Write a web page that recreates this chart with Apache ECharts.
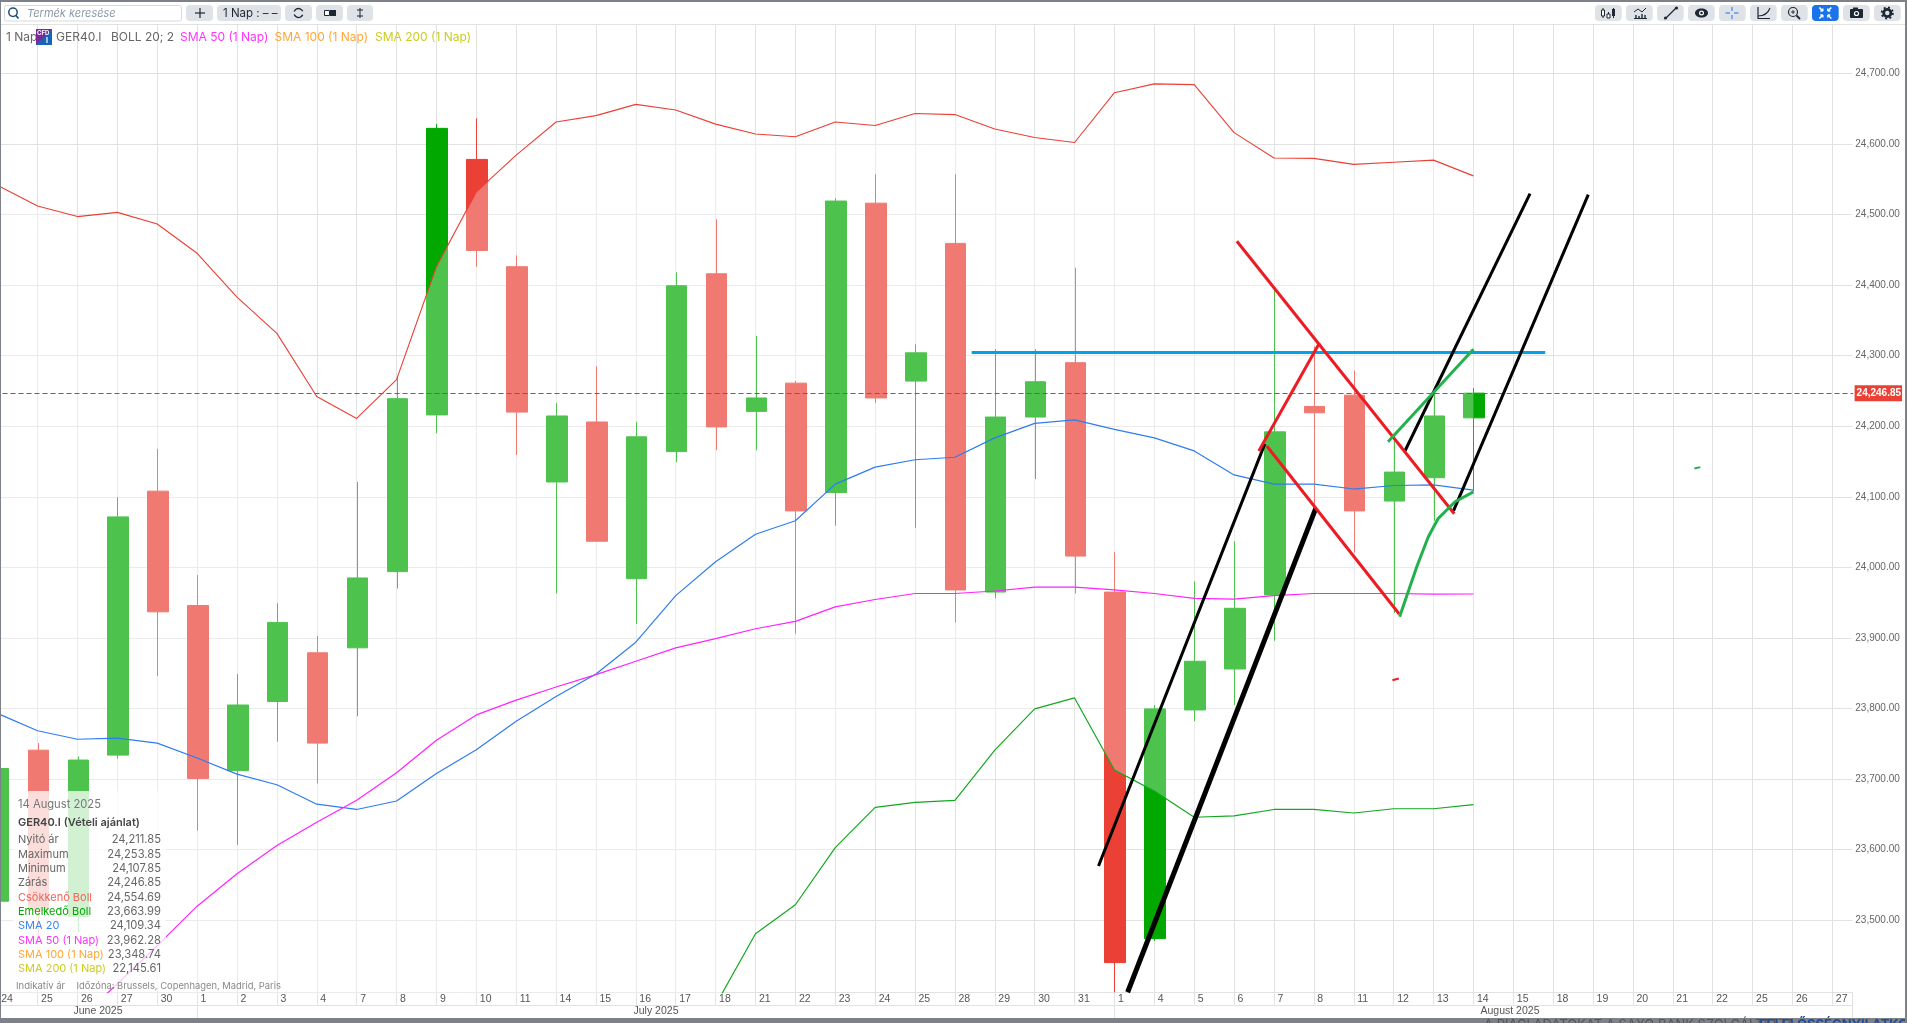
<!DOCTYPE html>
<html><head><meta charset="utf-8"><title>GER40.I</title>
<style>html,body{margin:0;padding:0;background:#fff;overflow:hidden}#c{width:1907px;height:1023px}</style>
<script src="https://cdn.jsdelivr.net/npm/echarts@6/dist/echarts.min.js"></script>
</head><body><div id="c"></div>
<script>
const categories=['24','25','26','27','30','1','2','3','4','7','8','9','10','11','14','15','16','17','18','21','22','23','24','25','28','29','30','31','1','4','5','6','7','8','11','12','13','14','15','18','19','20','21','22','25','26','27'];
const priceTicks=[23500,23600,23700,23800,23900,24000,24100,24200,24300,24400,24500,24600,24700];
// open, close, low, high
const ohlc=[
[23527,23715,23520,23720],[23741,23514,23472,23751],[23505,23727,23483,23732],[23734,24071.5,23729,24099],
[24108,23937,23846,24168],[23946,23701,23627,23989],[23712,23805,23607,23849],[23810,23922,23753,23949],
[23879,23751,23694,23903],[23886,23985,23789,24121],[23994,24239,23970,24270],[24216,24622,24190,24628],
[24578,24449,24426,24636],[24426,24220,24159,24442],[24121,24214.5,23963,24233],[24206,24037,24037,24285],
[23984,24185,23920,24206],[24164,24399,24149,24418],[24416,24199,24166,24493],[24221,24240,24166,24328],
[24261,24080,23906,24264],[24106,24519,24059,24523],[24516,24240,24233,24557],[24264,24304,24056,24316],
[24459,23968,23922,24557],[23965,24213,23956,24309],[24213,24263,24125,24309],[24290,24016,23963,24424.5],
[23965,23440,23398,24022],[23474,23799.5,23471,23805],[23798,23867,23782,23980],[23856,23942,23805,24037],
[23961,24192,23896,24393.5],[24228,24219,24080,24313],[24244,24080,24021,24278.5],[24094,24135,23935.5,24180],
[24127,24214.5,24066,24251],[24211.85,24246.85,24107.85,24253.85]];
const bollUpper=[24541,24512,24497,24503,24486.5,24445,24383,24331.5,24242,24211,24266,24426,24532,24584,24631,24640,24656,24648,24628,24614,24610,24631,24626,24643,24641.5,24621,24609,24602,24672.5,24685,24684,24616,24580,24579.5,24571,24574,24577,24554.69];
const bollLower=[23045,23025,23016,23013,23015,23015,23031,23052,23087,23103,23072,22990,22951,22980,23003,23058,23132,23272,23380,23481,23522,23603,23660,23667,23670,23741,23799.5,23815,23713,23683,23646,23648,23657,23657,23652,23658,23658,23663.99];
const sma20=[23793,23768.5,23756.5,23758,23751,23730,23707,23692,23664.5,23657,23669,23708,23741.5,23782,23817,23849,23894,23960,24008,24047,24066,24118,24142,24152.5,24156,24183.5,24204,24209,24195.5,24183.5,24165,24131,24118,24118,24111,24116,24117,24109.34];
const sma50=[23249,23303,23357,23410,23464,23520,23566,23606,23639,23670,23709,23755,23791,23812,23830.5,23848,23867,23886,23899,23913,23923.5,23944,23954.5,23963,23963,23966.5,23972,23972,23968,23963,23956,23955,23960,23963,23963,23963,23962,23962.28];
const lastPrice=24246.85;
// hand-drawn annotations: [bar position, price]
const blueLevel=[[24.42,24304.5],[38.8,24304.5]];
const blackThin1=[[27.6,23577],[31.77,24175]];
const blackThin2=[[35.28,24164.5],[38.42,24529.5]];
const blackThick1=[[28.33,23398],[33.05,24084]];
const blackThick2=[[36.5,24080],[39.88,24528]];
const redA=[[31.07,24462],[36.52,24076]];
const redB=[[31.82,24172],[35.14,23934]];
const redC=[[31.62,24165],[33.14,24318]];
const greenA=[[34.86,24178],[37,24309]];
const greenB=[[35.15,23930],[35.58,24001],[35.87,24043.5],[36.12,24069.5],[36.54,24093],[37,24107]];
const redDot=[[34.97,23840],[35.13,23842.6]];
const greenDot=[[42.54,24140],[42.69,24142]];
const months=[['June 2025',98],['July 2025',656],['August 2025',1510]];
const monthDividers=[197.5,1114.5];
const legendItems=[['1 Nap',6,'#666'],['GER40.I',56,'#666'],['BOLL 20; 2',111,'#666'],['SMA 50 (1 Nap)',180,'#ff33ff'],['SMA 100 (1 Nap)',274.5,'#ffa733'],['SMA 200 (1 Nap)',375,'#cccc22']];
const panelRows=[['Nyitó ár','24,211.85','#666',840],['Maximum','24,253.85','#666',855],['Minimum','24,107.85','#666',869],['Zárás','24,246.85','#666',883],['Csökkenő Boll','24,554.69','#f2645a',898],['Emelkedő Boll','23,663.99','#00a800',912],['SMA 20','24,109.34','#3d85f0',926],['SMA 50 (1 Nap)','23,962.28','#ff33ff',941],['SMA 100 (1 Nap)','23,348.74','#ffa733',955],['SMA 200 (1 Nap)','22,145.61','#cccc22',969]];
const bandWidth=bollUpper.map((v,i)=>v-bollLower[i]);

const FONT='Inter, "Noto Sans", sans-serif', AXISFONT='"Liberation Sans", Arial, sans-serif', GRID='#e2e2e2', BTN='#dfe2e6', DARK='#1d2733', GREY='#7d8189';
const Z=50;
const txt=(t,x,y,o={})=>({type:'text',z:Z,style:Object.assign({text:t,x,y,font:(o.w||'normal')+' '+(o.s||11)+'px '+(o.f||FONT),fill:o.c||'#666',textAlign:o.a||'left',textVerticalAlign:'middle'},o.extra||{})});
const rect=(x,y,w,h,fill,r,o={})=>({type:'rect',z:o.z||Z,shape:{x,y,width:w,height:h,r:r||0},style:{fill,stroke:o.stroke,lineWidth:o.lw,opacity:o.op}});
const seg=(x1,y1,x2,y2,c,w)=>({type:'line',z:Z+1,shape:{x1,y1,x2,y2},style:{stroke:c,lineWidth:w||1}});
const circ=(cx,cy,r,fill,stroke,lw)=>({type:'circle',z:Z+1,shape:{cx,cy,r},style:{fill:fill||'none',stroke,lineWidth:lw}});
const poly=(pts,c,w)=>({type:'polyline',z:Z+1,shape:{points:pts},style:{stroke:c,lineWidth:w||1,fill:'none'}});

const g=[];
// window frame + toolbar
g.push(rect(0,0,1907,24,'#fff'));
g.push(seg(0,24.5,1905,24.5,GRID,1));
g.push(rect(0,0,1907,2,GREY,0,{z:Z+5}));
g.push(rect(0,0,1,1023,GREY,0,{z:Z+5}));
g.push(rect(1905,0,2,1023,GREY,0,{z:Z+5}));
// footer
g.push(rect(0,1018,1907,5,GREY,0,{z:Z-2}));
g.push(txt('A PIACI ADATOKAT A SAXO BANK SZOLGÁLTATTA',1484,1025,{s:13,c:'#555'}));
g.push(txt('• FELELŐSSÉGNYILATKOZAT',1750,1025,{s:13,c:'#1f4e9c',w:'bold'}));
g.push(rect(0,1005,1907,13,'#fff',0,{z:Z-1}));
g.push(seg(1,1005.5,1852.5,1005.5,GRID,1));
g.push(seg(1852.5,993,1852.5,1018,GRID,1));
monthDividers.forEach(x=>g.push(seg(x,1005,x,1018,GRID,1)));
months.forEach(m=>g.push(txt(m[0],m[1],1011.5,{s:10.5,a:'center',c:'#555',f:AXISFONT})));
// search box
g.push(rect(4.5,5.5,177,15.5,'#fff',2,{stroke:'#d6d9dd',lw:1}));
g.push(circ(13,12.2,4.2,null,'#1f4e79',1.5));
g.push(seg(16,15.5,18.5,18.5,'#1f4e79',1.7));
g.push(txt('Termék keresése',27,13.5,{s:11,c:'#8a9aa8',extra:{font:'italic 11px '+FONT}}));
[[186,27],[217,64],[285,27],[316,27],[347,26]].forEach(b=>g.push(rect(b[0],5,b[1],16,BTN,4)));
g.push(seg(195,13,205,13,DARK,1.2),seg(200,8,200,18,DARK,1.2));
g.push(txt('1 Nap : – –',223,13.5,{s:11.5,c:DARK}));
g.push({type:'arc',z:Z+1,shape:{cx:298.5,cy:13,r:4.5,startAngle:0.4,endAngle:2.8},style:{stroke:DARK,lineWidth:1.4,fill:'none'}});
g.push({type:'arc',z:Z+1,shape:{cx:298.5,cy:13,r:4.5,startAngle:3.5,endAngle:5.9},style:{stroke:DARK,lineWidth:1.4,fill:'none'}});
g.push(rect(324.5,10.5,5,5,'#fff',0,{stroke:DARK,lw:1,z:Z+1}),rect(330,10,6,6,DARK,0,{z:Z+1}));
g.push(seg(360,8,360,18,DARK,1),seg(357,10,363,10,DARK,1),seg(357,16,363,16,DARK,1));
// right-hand buttons
[1595,1626,1657,1688,1719,1750,1781,1812,1843,1874].forEach((x,i)=>g.push(rect(x,5,26.7,16,i===7?'#1a73e8':BTN,4)));
g.push(seg(1603,8,1603,18,DARK,1),rect(1601.5,10,3,6,'#fff',0,{stroke:DARK,lw:1,z:Z+2}),seg(1608.5,12,1608.5,18,DARK,1),rect(1607,14,3,4,'#fff',0,{stroke:DARK,lw:1,z:Z+2}),seg(1613.5,8,1613.5,18,DARK,1),rect(1612,9,3,7,DARK,0,{z:Z+2}));
g.push(poly([[1634,12],[1638,9],[1642,12],[1646,8]],DARK,1),seg(1634,18.5,1647,18.5,DARK,1),seg(1636,15,1636,18,DARK,1.4),seg(1639,16,1639,18,DARK,1.4),seg(1642,14,1642,18,DARK,1.4),seg(1645,15,1645,18,DARK,1.4));
g.push(seg(1666,18,1676,8,DARK,1.3),circ(1665.5,18,1.6,DARK),circ(1676.5,8,1.6,DARK));
g.push({type:'ellipse',z:Z+1,shape:{cx:1701.5,cy:13,rx:6.5,ry:4.5},style:{fill:DARK}},Object.assign(circ(1701.5,13,2.5,'#fff'),{z:Z+2}),Object.assign(circ(1701.5,13,1.3,DARK),{z:Z+3}));
g.push(seg(1725.5,13,1730,13,'#1a73e8',1),seg(1734,13,1738.5,13,'#1a73e8',1),seg(1732,7,1732,11,'#1a73e8',1),seg(1732,15,1732,19,'#1a73e8',1));
g.push(poly([[1758,7],[1758,18.5],[1770,18.5]],DARK,1.2),{type:'bezierCurve',z:Z+1,shape:{x1:1758,y1:16,x2:1770,y2:8,cpx1:1767,cpy1:16},style:{stroke:DARK,lineWidth:1.1,fill:'none'}});
g.push(circ(1793,12,4.5,null,DARK,1.2),seg(1796.5,15.5,1800,19,DARK,1.8),seg(1791,12,1795,12,DARK,.9),seg(1793,10,1793,14,DARK,.9));
[[-1,-1],[1,-1],[-1,1],[1,1]].forEach(d=>{const cx=1825.3,cy=13;g.push(seg(cx+d[0]*2.5,cy+d[1]*2,cx+d[0]*6,cy+d[1]*5.5,'#fff',1.6),seg(cx+d[0]*2.5,cy+d[1]*2,cx+d[0]*5,cy+d[1]*2,'#fff',1.4),seg(cx+d[0]*2.5,cy+d[1]*2,cx+d[0]*2.5,cy+d[1]*4.5,'#fff',1.4));});
g.push(rect(1850,9,13,9,DARK,1,{z:Z+1}),rect(1853,7.5,5,2,DARK,0,{z:Z+1}),Object.assign(circ(1856.5,13.5,2.6,'#fff'),{z:Z+2}),Object.assign(circ(1856.5,13.5,1.4,DARK),{z:Z+3}));
g.push(circ(1887.3,13,3.6,'#dfe2e6',DARK,2.8),{type:'circle',z:Z+1,shape:{cx:1887.3,cy:13,r:5.6},style:{fill:'none',stroke:DARK,lineWidth:1.8,lineDash:[2,2.4]}});
// legend row
legendItems.forEach(l=>g.push(txt(l[0],l[1],37,{s:12,c:l[2]})));
g.push(rect(36,29,16,16,'#1565b8'),{type:'polygon',z:Z+1,shape:{points:[[36,29],[52,29],[36,45]]},style:{fill:'#7b2a9a'}});
g.push(Object.assign(txt('CFD',37,33,{s:6,c:'#fff',w:'bold'}),{z:Z+2}),Object.assign(txt('I',46,41,{s:7,c:'#fff',w:'bold'}),{z:Z+2}));
// data panel
g.push(rect(13,791,153,196,'#fff',0,{op:0.75,z:Z-3}));
g.push(txt('14 August 2025',18,805,{s:11.2,c:'#777'}));
g.push(txt('GER40.I (Vételi ajánlat)',18,823,{s:11,c:'#444',w:'600'}));
panelRows.forEach(r=>{g.push(txt(r[0],18,r[3],{s:11,c:r[2]}));g.push(txt(r[1],161,r[3],{s:11.2,c:'#666',a:'right'}));});
g.push(txt('Indikatív ár',16,986,{s:9.5,c:'#888'}),txt('Időzóna: Brussels, Copenhagen, Madrid, Paris',76.5,986,{s:9.4,c:'#888'}));

const lineOn=(name,data,color,width,z)=>({name,type:'line',data,symbol:'none',silent:true,z:z||6,lineStyle:{color,width},itemStyle:{color},animation:false});
const note=(name,data,color,width)=>Object.assign(lineOn(name,data,color,width,8),{xAxisIndex:1,yAxisIndex:0});

const chart=echarts.init(document.getElementById('c'),null,{renderer:'canvas',width:1907,height:1023});
chart.setOption({
 animation:false,backgroundColor:'#fff',
 grid:[{left:-22.24,right:54.7,top:24,bottom:30.3,containLabel:false,outerBoundsMode:'none'},
       {left:-21.44,right:53.9,top:24,bottom:30.3,containLabel:false,outerBoundsMode:'none'}],
 xAxis:[{type:'category',data:categories,boundaryGap:true,gridIndex:0,
   axisLine:{lineStyle:{color:GRID}},
   axisTick:{show:true,alignWithLabel:true,interval:0,length:12,lineStyle:{color:GRID}},
   splitLine:{show:true,alignWithLabel:true,interval:0,lineStyle:{color:GRID,width:1}},
   axisLabel:{interval:0,align:'left',margin:1,padding:[0,0,0,3.5],fontFamily:AXISFONT,fontSize:10.5,color:'#555',hideOverlap:false}},
  {type:'value',min:-0.5,max:46.5,show:false,gridIndex:0},
  {type:'category',data:categories,boundaryGap:true,gridIndex:1,show:false}],
 yAxis:[{type:'value',position:'right',min:23397.4,max:24769.85,scale:true,gridIndex:0,
   axisLine:{show:true,lineStyle:{color:GRID}},
   axisTick:{show:true,length:2,customValues:priceTicks,lineStyle:{color:GRID}},
   splitLine:{show:true,lineStyle:{color:GRID,width:1}},
   axisLabel:{customValues:priceTicks,margin:3,fontFamily:AXISFONT,fontSize:10,color:'#666',
     formatter:v=>Number(v).toLocaleString('en-US',{minimumFractionDigits:2,maximumFractionDigits:2})}},
  {type:'value',min:23397.4,max:24769.85,scale:true,gridIndex:1,show:false,splitLine:{show:false}}],
 series:[
  {name:'GER40.I',type:'candlestick',data:ohlc,barWidth:21,z:3,silent:true,xAxisIndex:2,yAxisIndex:1,
   itemStyle:{color:'#00a800',color0:'#ea4035',borderColor:'#00a800',borderColor0:'#ea4035',borderWidth:1},
   markLine:{silent:true,symbol:'none',animation:false,data:[{yAxis:lastPrice}],
     lineStyle:{color:'#cf3a30',type:[5,3],width:1},
     label:{position:'end',distance:1.5,formatter:'24,246.85',backgroundColor:'#ea4035',color:'#fff',fontFamily:AXISFONT,fontWeight:'bold',fontSize:10,padding:[3,1,3,2]}}},
  {name:'bandBase',type:'line',data:bollLower,stack:'boll',symbol:'none',silent:true,lineStyle:{opacity:0},z:4},
  {name:'bandFill',type:'line',data:bandWidth,stack:'boll',symbol:'none',silent:true,lineStyle:{opacity:0},areaStyle:{color:'#fff',opacity:0.3},z:4},
  lineOn('Csökkenő Boll',bollUpper,'#ea4035',1.1),
  lineOn('Emelkedő Boll',bollLower,'#14a820',1.2),
  lineOn('SMA 20',sma20,'#2f7cf0',1.2),
  lineOn('SMA 50',sma50,'#ff22ff',1.2),
  note('level',blueLevel,'#00a2e8',3),
  note('trend1',blackThin1,'#000',3),
  note('trend2',blackThin2,'#000',3),
  note('trend3',blackThick1,'#000',5),
  note('trend4',blackThick2,'#000',3),
  note('red1',redA,'#ed1c24',3),
  note('red2',redB,'#ed1c24',3),
  note('red3',redC,'#ed1c24',3),
  note('green1',greenA,'#22b14c',3),
  note('green2',greenB,'#22b14c',3),
  note('red mark',redDot,'#ed1c24',2),
  note('green mark',greenDot,'#22b14c',2)
 ],
 graphic:{elements:g}
});
</script></body></html>
